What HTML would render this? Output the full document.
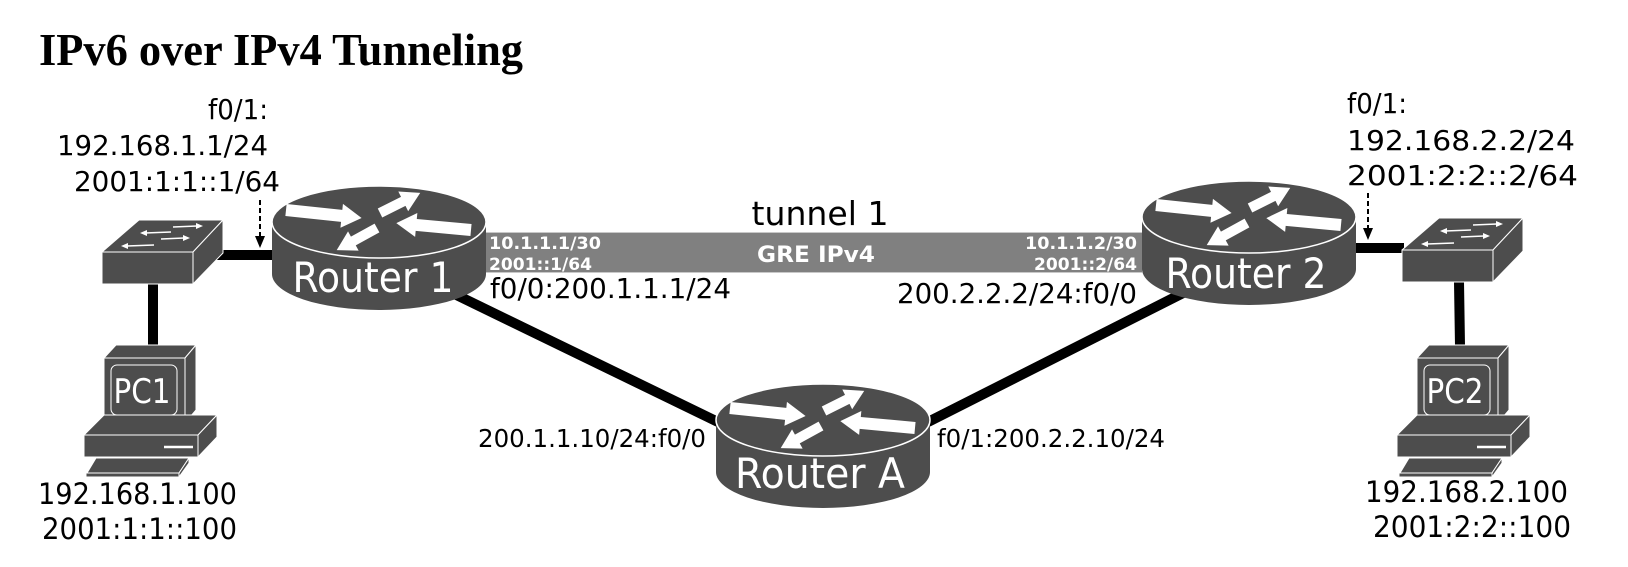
<!DOCTYPE html>
<html><head><meta charset="utf-8"><style>
html,body{margin:0;padding:0;background:#fff;}
svg{display:block;}
.l{font-family:"DejaVu Sans","Liberation Sans",sans-serif;fill:#000;}
.w{font-family:"DejaVu Sans","Liberation Sans",sans-serif;fill:#fff;}
</style></head><body>
<svg width="1628" height="567" viewBox="0 0 1628 567" xmlns="http://www.w3.org/2000/svg">
<defs>
  <g id="router">
    <path d="M-107,0 L-107,52 A107,36 0 0 0 107,52 L107,0 Z" fill="#4d4d4d"/>
    <ellipse cx="0" cy="0" rx="107" ry="36" fill="#4d4d4d" stroke="#fff" stroke-width="1.5"/>
    <g fill="#fff">
      <g transform="translate(-93,-12) rotate(6)"><polygon points="0,-6 56,-6 56,-12 76,0 56,12 56,6 0,6"/></g>
      <g transform="translate(1,-9) rotate(-26.6)"><polygon points="0,-5 26,-5 26,-11 45,0 26,11 26,5 0,5"/></g>
      <g transform="translate(92,8) rotate(185.3)"><polygon points="0,-6 55,-6 55,-12 75,0 55,12 55,6 0,6"/></g>
      <g transform="translate(-2,6) rotate(151.2)"><polygon points="0,-5 27,-5 27,-11 46,0 27,11 27,5 0,5"/></g>
    </g>
  </g>
  <g id="switch" stroke="#fff" stroke-width="1" stroke-linejoin="round">
    <polygon points="102,252 139,220 223,220 193,252" fill="#4d4d4d"/>
    <polygon points="102,252 193,252 193,284 102,284" fill="#4d4d4d"/>
    <polygon points="193,252 223,220 223,253 193,284" fill="#4d4d4d"/>
    <g stroke="#fff" stroke-width="1.5" fill="#fff">
      <line x1="145" y1="233" x2="171" y2="232"/><polygon points="140,233 147,230 147,236" stroke="none"/>
      <line x1="173" y1="227" x2="197" y2="226"/><polygon points="203,226 196,223 196,229" stroke="none"/>
      <line x1="127" y1="246" x2="154" y2="245"/><polygon points="121,246 128,243 128,249" stroke="none"/>
      <line x1="161" y1="239" x2="184" y2="238"/><polygon points="190,238 183,235 183,241" stroke="none"/>
    </g>
  </g>
  <g id="pc" stroke="#fff" stroke-width="1" stroke-linejoin="round" fill="#4d4d4d">
    <polygon points="104,358 116,345 196,345 185,358"/>
    <rect x="104" y="358" width="81" height="65"/>
    <polygon points="185,358 196,345 196,410 185,423"/>
    <rect x="111" y="365" width="66" height="50" rx="6"/>
    <polygon points="84,435 104,415 217,415 198,435"/>
    <rect x="84" y="435" width="114" height="22"/>
    <polygon points="198,435 217,415 217,437 198,457"/>
    <line x1="164" y1="447" x2="193" y2="447" stroke-width="2.5"/>
    <polygon points="87,473 96,458 189,458 179,473"/>
    <polygon points="86,473 179,473 179,477 86,477"/>
    <polygon points="179,473 189,458 189,463 179,477"/>
  </g>
</defs>

<text x="39" y="65" font-family="'Liberation Serif',serif" font-weight="bold" font-size="46" textLength="484" lengthAdjust="spacingAndGlyphs">IPv6 over IPv4 Tunneling</text>

<g stroke="#000" stroke-width="10" stroke-linecap="butt">
  <line x1="214" y1="255" x2="274" y2="255"/>
  <line x1="153" y1="284" x2="153" y2="346"/>
  <line x1="1355" y1="248" x2="1404" y2="248"/>
  <line x1="1459" y1="282" x2="1460" y2="346"/>
  <line x1="440" y1="287" x2="718" y2="422"/>
  <line x1="928" y1="422" x2="1195" y2="287"/>
</g>

<rect x="486" y="232" width="656" height="41" fill="#808080"/>
<line x1="486" y1="232.5" x2="1142" y2="232.5" stroke="#c8c8c8" stroke-width="1"/>
<line x1="486" y1="272.5" x2="1142" y2="272.5" stroke="#c8c8c8" stroke-width="1"/>
<g class="w" font-weight="bold" font-size="17">
  <text x="489" y="249" textLength="112" lengthAdjust="spacingAndGlyphs">10.1.1.1/30</text>
  <text x="489" y="270" textLength="103" lengthAdjust="spacingAndGlyphs">2001::1/64</text>
  <text x="1137" y="249" text-anchor="end" textLength="112" lengthAdjust="spacingAndGlyphs">10.1.1.2/30</text>
  <text x="1137" y="270" text-anchor="end" textLength="103" lengthAdjust="spacingAndGlyphs">2001::2/64</text>
  <text x="816" y="262" text-anchor="middle" font-size="22" textLength="118" lengthAdjust="spacingAndGlyphs">GRE IPv4</text>
</g>
<text class="l" x="820" y="225" text-anchor="middle" font-size="33" textLength="137" lengthAdjust="spacingAndGlyphs">tunnel 1</text>

<use href="#router" x="379" y="222"/>
<use href="#router" x="1249" y="217"/>
<use href="#router" x="823" y="420"/>
<text class="w" x="373" y="292" text-anchor="middle" font-size="42" textLength="161" lengthAdjust="spacingAndGlyphs">Router 1</text>
<text class="w" x="1246" y="288" text-anchor="middle" font-size="42" textLength="161" lengthAdjust="spacingAndGlyphs">Router 2</text>
<text class="w" x="820" y="488" text-anchor="middle" font-size="42" textLength="170" lengthAdjust="spacingAndGlyphs">Router A</text>

<use href="#switch"/>
<use href="#switch" x="1300" y="-2"/>
<use href="#pc"/>
<use href="#pc" x="1313" y="0"/>
<text class="w" x="142" y="403" text-anchor="middle" font-size="34" textLength="57" lengthAdjust="spacingAndGlyphs">PC1</text>
<text class="w" x="1455" y="403" text-anchor="middle" font-size="34" textLength="57" lengthAdjust="spacingAndGlyphs">PC2</text>

<g stroke="#000" stroke-width="2" stroke-dasharray="5,3">
  <line x1="260" y1="200" x2="260" y2="238"/>
  <line x1="1368" y1="193" x2="1368" y2="230"/>
</g>
<polygon points="255,236 265,236 260,248" fill="#000"/>
<polygon points="1363,228 1373,228 1368,240" fill="#000"/>

<g class="l" font-size="28">
  <text x="268" y="119" text-anchor="end" textLength="60" lengthAdjust="spacingAndGlyphs">f0/1:</text>
  <text x="57" y="155" textLength="211" lengthAdjust="spacingAndGlyphs">192.168.1.1/24</text>
  <text x="74" y="191" textLength="206" lengthAdjust="spacingAndGlyphs">2001:1:1::1/64</text>
  <text x="1347" y="113" textLength="60" lengthAdjust="spacingAndGlyphs">f0/1:</text>
  <text x="1347" y="150" textLength="228" lengthAdjust="spacingAndGlyphs">192.168.2.2/24</text>
  <text x="1347" y="185" textLength="231" lengthAdjust="spacingAndGlyphs">2001:2:2::2/64</text>
  <text x="490" y="298" textLength="241" lengthAdjust="spacingAndGlyphs">f0/0:200.1.1.1/24</text>
  <text x="1137" y="303" text-anchor="end" textLength="240" lengthAdjust="spacingAndGlyphs">200.2.2.2/24:f0/0</text>
  <text x="478" y="447" font-size="25" textLength="228" lengthAdjust="spacingAndGlyphs">200.1.1.10/24:f0/0</text>
  <text x="937" y="447" font-size="25" textLength="228" lengthAdjust="spacingAndGlyphs">f0/1:200.2.2.10/24</text>
  <text x="38" y="504" font-size="29" textLength="199" lengthAdjust="spacingAndGlyphs">192.168.1.100</text>
  <text x="42" y="539" font-size="29" textLength="195" lengthAdjust="spacingAndGlyphs">2001:1:1::100</text>
  <text x="1365" y="502" font-size="29" textLength="203" lengthAdjust="spacingAndGlyphs">192.168.2.100</text>
  <text x="1373" y="537" font-size="29" textLength="198" lengthAdjust="spacingAndGlyphs">2001:2:2::100</text>
</g>
</svg>
</body></html>
